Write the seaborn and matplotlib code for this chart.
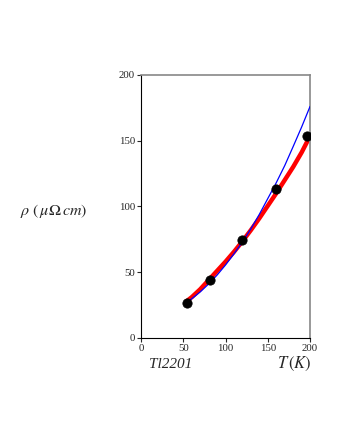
import matplotlib
matplotlib.use("Agg")
import matplotlib.pyplot as plt
import seaborn as sns

# measured resistivity of Tl2201
t_data = [54.3, 81.9, 119.7, 159.4, 196.9]
rho_data = [26.6, 44.3, 74.7, 113.0, 153.2]

# thin blue fit curve
t_blue = [54, 60, 70, 80, 90, 100, 110, 120, 130, 140, 150, 160, 170, 180, 190, 200]
rho_blue = [27, 29.8, 35, 41, 47.8, 55.5, 64, 73, 83, 94, 106, 118, 131, 145.5, 160.3, 176]

# thick red fit curve
t_red = [54, 60, 70, 80, 90, 100, 110, 120, 130, 140, 150, 160, 170, 180, 190, 198]
rho_red = [28, 31, 37, 44, 51, 58, 65.5, 73.5, 82, 91, 100.5, 110, 120, 130, 141, 151]

x_ticks = [0, 50, 100, 150, 200]
y_ticks = [0, 50, 100, 150, 200]

sns.set_style("ticks")
plt.rcParams["font.family"] = ["Liberation Serif", "DejaVu Serif"]
plt.rcParams["mathtext.fontset"] = "stix"

fig = plt.figure(figsize=(3.4, 4.4), dpi=100)
ax = fig.add_axes([0.415, 0.232, 0.497, 0.598])

sns.lineplot(x=t_red, y=rho_red, color="#ff0000", linewidth=3.2, ax=ax, zorder=2)
sns.lineplot(x=t_blue, y=rho_blue, color="#0000ff", linewidth=0.9, ax=ax, zorder=3)
sns.scatterplot(x=t_data, y=rho_data, color="black", s=45, edgecolor="black", ax=ax, zorder=4)

ax.set_xlim(0, 200)
ax.set_ylim(0, 200)
ax.set_xticks(x_ticks)
ax.set_yticks(y_ticks)
ax.tick_params(labelsize=7.8, length=3, width=0.8, pad=1.5)
ax.set_xlabel("")
ax.set_ylabel("")
for side in ["top", "right"]:
    ax.spines[side].set_color("#888888")
    ax.spines[side].set_linewidth(1.2)
for side in ["left", "bottom"]:
    ax.spines[side].set_color("black")
    ax.spines[side].set_linewidth(0.8)

fig.text(20 / 340, 1 - 211 / 440, r"$\rho\ (\,\mu\Omega\,cm)$", fontsize=11.5,
         ha="left", va="center")
fig.text(149 / 340, 1 - 364 / 440, "Tl2201", fontsize=11, style="italic",
         ha="left", va="center")
fig.text(312 / 340, 1 - 364 / 440, r"$T\,(K)$", fontsize=12,
         ha="right", va="center")

fig.savefig("out.png", dpi=100)
